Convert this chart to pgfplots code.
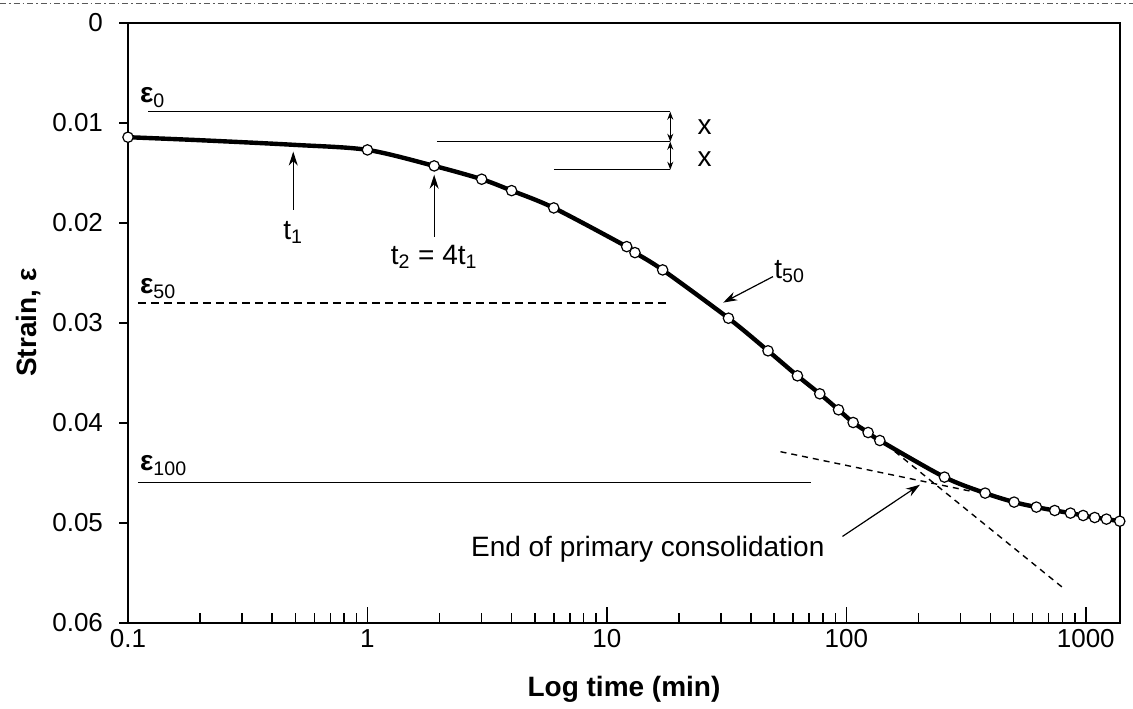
\documentclass[border=0pt]{standalone}
\usepackage{fontspec}
\setmainfont{Liberation Sans}
\usepackage{pgfplots}
\pgfplotsset{compat=1.18}
\usetikzlibrary{arrows.meta}

\pgfplotstableread{
t      e
0.1    0.01145
0.2    0.01175
0.5    0.01222
1.0    0.01272
1.9    0.01432
3.0    0.01565
4.0    0.01679
6.0    0.01852
12.1   0.02239
13.1   0.02299
17.1   0.02472
32.2   0.02955
47.1   0.03281
62.5   0.03531
77.5   0.03711
92.8   0.03871
106.8  0.03998
123.3  0.04098
138    0.04178
257    0.04544
380    0.04704
502    0.04794
622    0.04844
742    0.04878
863    0.04904
975    0.04928
1090   0.04948
1220   0.04964
1387   0.04985
}\curve

\pgfplotstableread{
t      e
0.1    0.01145
1.0    0.01272
1.9    0.01432
3.0    0.01565
4.0    0.01679
6.0    0.01852
12.1   0.02239
13.1   0.02299
17.1   0.02472
32.2   0.02955
47.1   0.03281
62.5   0.03531
77.5   0.03711
92.8   0.03871
106.8  0.03998
123.3  0.04098
138    0.04178
257    0.04544
380    0.04704
502    0.04794
622    0.04844
742    0.04878
863    0.04904
975    0.04928
1090   0.04948
1220   0.04964
1387   0.04985
}\points

\begin{document}
\begin{tikzpicture}[font=\fontsize{14}{16}\selectfont]
\begin{axis}[
  scale only axis, width=496pt, height=300pt,
  xmode=log, xmin=0.1, xmax=1390,
  ymin=0, ymax=0.06, y dir=reverse,
  scaled y ticks=false,
  axis line style={line width=1.1pt},
  xtick={0.1,1,10,100,1000}, xticklabels={0.1,1,10,100,1000},
  minor xtick={0.2,0.3,0.4,0.5,0.6,0.7,0.8,0.9,2,3,4,5,6,7,8,9,20,30,40,50,60,70,80,90,200,300,400,500,600,700,800,900},
  ytick={0,0.01,0.02,0.03,0.04,0.05,0.06},
  yticklabels={0,0.01,0.02,0.03,0.04,0.05,0.06},
  xtick pos=bottom, ytick pos=left,
  xtick align=inside, ytick align=outside,
  major tick length=8pt, minor tick length=5pt,
  y tick style={/pgfplots/major tick length=4.5pt},
  tick style={black, line width=0.8pt},
  /pgf/number format/assume math mode=true,
  ticklabel style={font=\fontsize{13}{15}\selectfont},
  yticklabel style={xshift=-1pt},
  xlabel={Log time (min)}, ylabel={Strain, ε},
  label style={font=\bfseries\fontsize{14}{16}\selectfont},
  xlabel style={at={(axis description cs:0.5,-0.1117)}, anchor=center},
  ylabel style={at={(axis description cs:-0.0998,0.5)}, anchor=center},
  clip=false,
]
% reference lines
\addplot[black, line width=0.7pt] coordinates {(0.1216,0.0089) (18.4,0.0089)};
\addplot[black, line width=0.6pt] coordinates {(1.95,0.0119) (18.4,0.0119)};
\addplot[black, line width=0.6pt] coordinates {(6.0,0.0147) (18.4,0.0147)};
\addplot[black, line width=0.8pt, dash pattern=on 4pt off 2.5pt] coordinates {(0.11,0.02805) (17.8,0.02805)};
\addplot[black, line width=0.6pt] coordinates {(0.11,0.04594) (71,0.04594)};
% tangents
\addplot[black, line width=0.7pt, dash pattern=on 3pt off 2.5pt] coordinates {(53.1,0.0429) (328,0.04683)};
\addplot[black, line width=0.7pt, dash pattern=on 3pt off 2.5pt] coordinates {(159.4,0.04288) (796,0.05643)};
% curve and points
\addplot[black, line width=2.2pt, smooth, no marks] table[x=t,y=e] {\curve};
\addplot[only marks, mark=*, mark size=2.6pt, mark options={fill=white, draw=black, line width=0.6pt}] table[x=t,y=e] {\points};

% arrows
\draw[{Stealth[length=4pt,width=3pt]}-{Stealth[length=4pt,width=3pt]}, line width=0.5pt] (axis cs:18.4,0.0089) -- (axis cs:18.4,0.0119);
\draw[{Stealth[length=4pt,width=3pt]}-{Stealth[length=4pt,width=3pt]}, line width=0.5pt] (axis cs:18.4,0.0119) -- (axis cs:18.4,0.0147);
\draw[-{Stealth[length=7pt,width=4.5pt]}, line width=0.6pt] (axis cs:0.49,0.0187) -- (axis cs:0.49,0.01289);
\draw[-{Stealth[length=7pt,width=4.5pt]}, line width=0.6pt] (axis cs:1.9,0.0214) -- (axis cs:1.9,0.0152);
\draw[-{Stealth[length=7pt,width=4.5pt]}, line width=0.6pt] (axis cs:49.4,0.02539) -- (axis cs:30.6,0.02799);
\draw[-{Stealth[length=7pt,width=4.5pt]}, line width=0.6pt] (axis cs:96.4,0.05137) -- (axis cs:203,0.0462);

% labels
\node[anchor=south west, inner sep=0pt] at (axis cs:0.112,0.0085) {\textbf{ε}\textsubscript{0}};
\node[anchor=south west, inner sep=0pt] at (axis cs:0.112,0.0276) {\textbf{ε}\textsubscript{50}};
\node[anchor=south west, inner sep=0pt] at (axis cs:0.112,0.0453) {\textbf{ε}\textsubscript{100}};
\node at (axis cs:0.49,0.0210) {t\textsubscript{1}};
\node at (axis cs:1.9,0.0234) {t\textsubscript{2} = 4t\textsubscript{1}};
\node at (axis cs:58,0.0249) {t\textsubscript{50}};
\node at (axis cs:25.6,0.01039) {x};
\node at (axis cs:25.6,0.01362) {x};
\node[anchor=east] at (axis cs:86.7,0.0527) {End of primary consolidation};
\end{axis}
\draw[line width=0.5pt, gray!70!black, dash pattern=on 3pt off 1.5pt on 0.8pt off 1.5pt]
  ([xshift=-64pt,yshift=9.85pt]current axis.north west) -- ([xshift=6.5pt,yshift=9.85pt]current axis.north east);
\pgfresetboundingbox
\path[use as bounding box] ([xshift=-64pt,yshift=-43pt]current axis.south west) rectangle ([xshift=6.5pt,yshift=11.35pt]current axis.north east);
\end{tikzpicture}
\end{document}
